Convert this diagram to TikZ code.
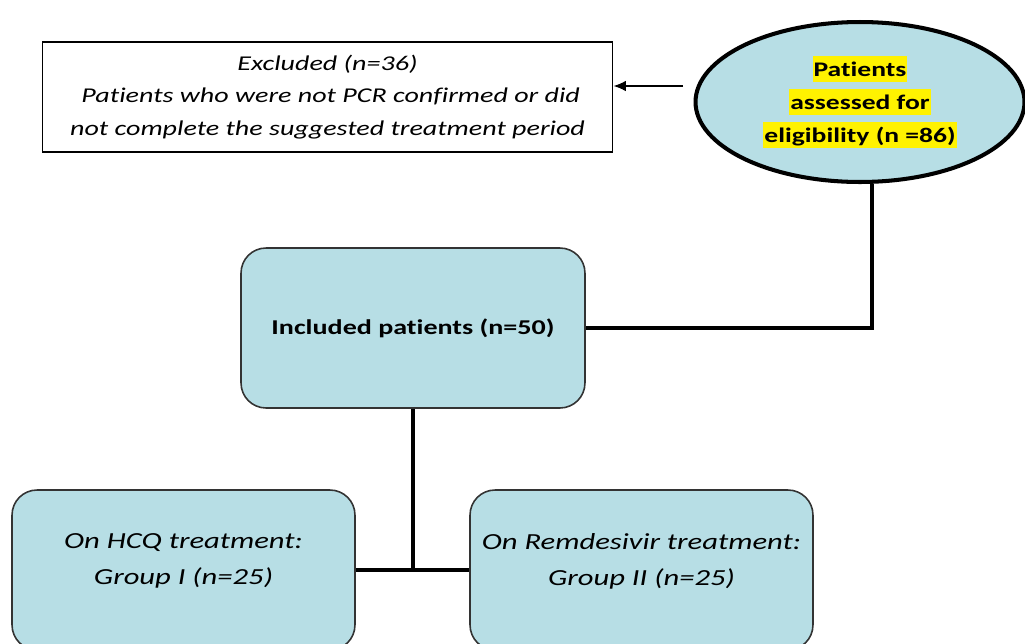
\documentclass[tikz,border=0pt]{standalone}
\usepackage{fontspec}
\setmainfont{Carlito}[Ligatures=NoCommon, FakeStretch=1.33]
\usepackage{xcolor}
\usetikzlibrary{shapes.geometric, arrows.meta, calc}
\definecolor{boxblue}{RGB}{183,222,229}
\newcommand{\hlite}[1]{{\setlength{\fboxsep}{0.6pt}\colorbox{yellow}{\rule[-2.4pt]{0pt}{13.4pt}#1}}}

\tikzset{
  flowbox/.style={draw=black!80, line width=0.9pt, fill=boxblue, rounded corners=0.5cm, align=center},
  link/.style={line width=2.8pt},
}

\begin{document}
\begin{tikzpicture}[x=0.02cm, y=-0.02cm]
\useasboundingbox (0,0) rectangle (1025,643);
\clip (0,0) rectangle (1025,643);
% excluded
\node[draw, line width=0.6pt, fill=white, minimum width=11.42cm, minimum height=2.2cm,
      align=center, font=\fontsize{12}{18.7}\selectfont\itshape] (exc) at (327.5,97)
  {Excluded (n=36)\\ \ Patients who were not PCR confirmed or did\\not complete the suggested treatment period};
% assessed
\node[ellipse, draw, line width=2.3pt, fill=boxblue, minimum width=6.58cm, minimum height=3.2cm,
      align=center, font=\fontsize{11.8}{18.7}\selectfont\bfseries, inner sep=0pt] (ell) at (860,102)
  {\hlite{Patients}\\\hlite{assessed for}\\\hlite{eligibility (n =86)}};
% included
\node[flowbox, minimum width=6.88cm, minimum height=3.2cm, font=\fontsize{12}{18}\selectfont\bfseries] (inc) at (413,328)
  {Included patients (n=50)};
% groups
\node[flowbox, minimum width=6.86cm, minimum height=3.2cm, font=\fontsize{13.1}{20.5}\selectfont\itshape] (g1) at (183.5,570)
  {On HCQ treatment:\\Group I (n=25)\\[-8pt]\mbox{}};
\node[flowbox, minimum width=6.86cm, minimum height=3.2cm, font=\fontsize{13.1}{20.5}\selectfont\itshape] (g2) at (641.5,570)
  {On Remdesivir treatment:\\Group II (n=25)\\[-8pt]\mbox{}};

\coordinate (arrstart) at (683,86);
\draw[line width=0.9pt, -{Latex[length=7pt,width=6pt]}] (arrstart) -- (arrstart -| exc.east);
\draw[link] ([xshift=0.24cm]ell.south) |- (inc.east);
\draw[link] (inc.south) -- (inc.south |- g1.east);
\draw[link] (g1.east) -- (g2.west);
\end{tikzpicture}
\end{document}
